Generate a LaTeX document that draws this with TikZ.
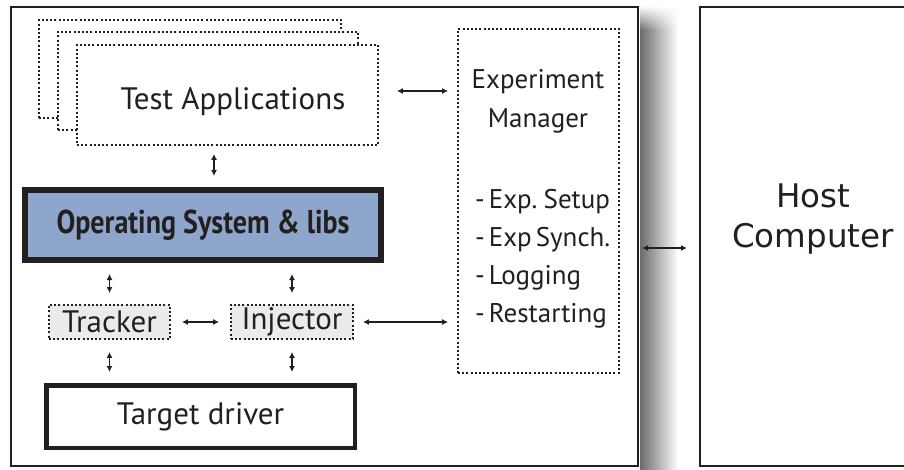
\documentclass[tikz,border=0pt]{standalone}
\usepackage{fontspec}
\setmainfont{PT Sans}
\newfontfamily\hostfont{DejaVu Sans}
\newfontfamily\osfont[FakeStretch=0.85]{PT Sans}
\newfontfamily\emfont[WordSpace=0.55]{PT Sans}
\usetikzlibrary{arrows.meta,fadings,calc}
\definecolor{ink}{HTML}{231F20}
\definecolor{osblue}{HTML}{8FA6CC}
\definecolor{modgray}{HTML}{EBEBEC}
\tikzfading[name=shadowtop, top color=transparent!100, bottom color=transparent!0]
\begin{document}
\begin{tikzpicture}[x=1pt,y=-1pt,
  every node/.style={text=ink, font=\fontsize{31}{36}\selectfont, inner sep=0pt},
  box/.style={draw=ink, rectangle, inner sep=0pt},
  dotbox/.style={box, line width=1.8pt, dash pattern=on 2pt off 2.2pt},
  solidbox/.style={box, line width=2pt},
  heavybox/.style={box, line width=6pt},
  emtext/.style={font=\emfont\fontsize{27}{32}\selectfont},
  tip/.tip={Latex[length=6pt,width=6pt]},
  arr/.style={draw=ink, line width=1.3pt, tip-tip},
]
\useasboundingbox (0,0) rectangle (904,469);
\fill[white] (0,0) rectangle (904,469);

% drop shadow to the right of the target board
\shade[left color=black!58, right color=white] (640,30) rectangle (678,469);
\shade[left color=black!58, right color=white, path fading=shadowtop] (640,6) rectangle (678,30);

% target board and host computer
\node[solidbox, fill=white, minimum width=627, minimum height=459] (board) at (324.5,236.5) {};
\node[solidbox, fill=white, minimum width=226, minimum height=459] (host) at (813,236.5) {};
\node[font=\hostfont\fontsize{32.5}{38}\selectfont, anchor=base] (hostA) at (813,207) {Host};
\node[font=\hostfont\fontsize{32.5}{38}\selectfont, anchor=base] (hostB) at (813,247) {Computer};

% stack of test applications
\node[dotbox, fill=white, minimum width=302, minimum height=98] (appsC) at (190,69) {};
\node[dotbox, fill=white, minimum width=300, minimum height=98] (appsB) at (208,81) {};
\node[dotbox, fill=white, minimum width=301, minimum height=100] (apps) at (227.5,95) {};
\node[anchor=base] (appstxt) at (233,109) {Test Applications};

% operating system layer
\node[heavybox, fill=osblue, minimum width=356, minimum height=70,
      font=\osfont\bfseries\fontsize{33}{38}\selectfont] (os) at (203,225) {Operating System \& libs};

% tracker and injector
\node[dotbox, fill=modgray, minimum width=121, minimum height=34] (tracker) at (109.5,322) {Tracker};
\node[dotbox, fill=modgray, minimum width=122, minimum height=34] (injector) at (292,322) {Injector};

% target driver
\node[box, line width=4.5pt, minimum width=308.5, minimum height=62.5] (target) at (200.5,416.5) {Target driver};

% experiment manager
\node[dotbox, minimum width=161, minimum height=344] (em) at (538.5,201) {};
\node[emtext, anchor=base] (emA) at (538,88) {Experiment};
\node[emtext, anchor=base] (emB) at (538,127) {Manager};
\node[emtext, anchor=base west] (emC) at (475,208) {- Exp. Setup};
\node[emtext, anchor=base west] (emD) at (475,246) {- Exp Synch.};
\node[emtext, anchor=base west] (emE) at (475,284) {- Logging};
\node[emtext, anchor=base west] (emF) at (475,322) {- Restarting};

% connectors
\draw[arr, shorten <=18pt, shorten >=9pt] ($(apps.east)+(0,-4)$) -- ($(apps.east -| em.west)+(0,-4)$);
\coordinate (appsdown) at ($(apps.south)+(-13.5,0)$);
\draw[arr, shorten <=8pt, shorten >=11pt] (appsdown) -- (appsdown |- os.north);
\draw[arr, shorten <=11pt, shorten >=11pt] (tracker.north |- os.south) -- (tracker.north);
\draw[arr, shorten <=11pt, shorten >=11pt] (injector.north |- os.south) -- (injector.north);
\draw[arr, shorten <=11pt, shorten >=11pt] (tracker.east) -- (injector.west);
\draw[arr, shorten <=9pt, shorten >=9pt] (injector.east) -- (injector.east -| em.west);
\draw[arr, shorten <=12pt, shorten >=11pt] (tracker.south) -- (tracker.south |- target.north);
\draw[arr, shorten <=12pt, shorten >=11pt] (injector.south) -- (injector.south |- target.north);
\draw[arr, shorten <=3pt, shorten >=12pt] ($(board.east)+(0,11.5)$) -- ($(host.west)+(0,11.5)$);
\end{tikzpicture}
\end{document}
